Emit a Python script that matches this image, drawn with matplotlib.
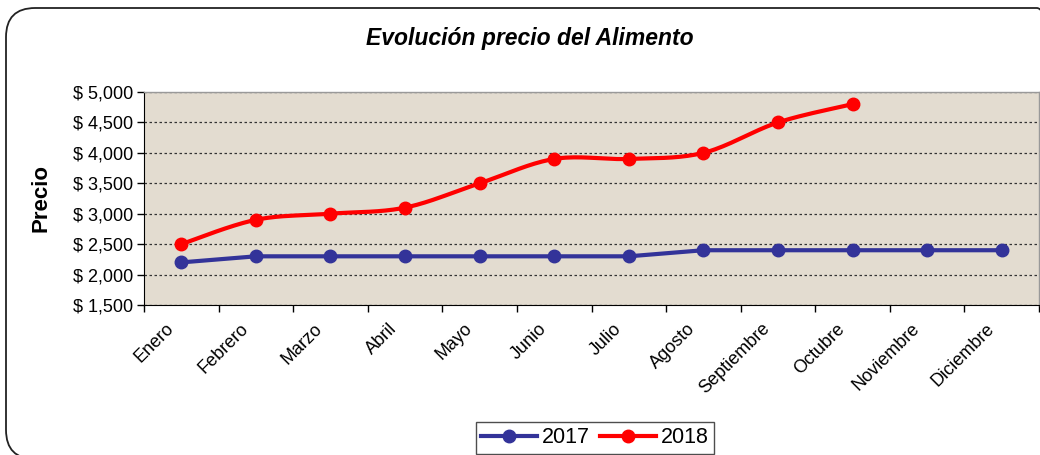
import numpy as np
import matplotlib
matplotlib.use("Agg")
import matplotlib.pyplot as plt
from matplotlib.patches import FancyBboxPatch
from matplotlib.lines import Line2D

months = ["Enero", "Febrero", "Marzo", "Abril", "Mayo", "Junio", "Julio",
          "Agosto", "Septiembre", "Octubre", "Noviembre", "Diciembre"]
p2017 = [2200, 2300, 2300, 2300, 2300, 2300, 2300, 2400, 2400, 2400, 2400, 2400]
p2018 = [2500, 2900, 3000, 3100, 3500, 3900, 3900, 4000, 4500, 4800]
yticks = [1500, 2000, 2500, 3000, 3500, 4000, 4500, 5000]

plt.rcParams['font.family'] = ['Liberation Sans', 'DejaVu Sans']

W, H = 1040, 455
fig = plt.figure(figsize=(W / 100, H / 100), dpi=100)

# outer rounded frame
frame = FancyBboxPatch((6 / W, -4 / H), (W + 20) / W, (H - 4) / H,
                       boxstyle="round,pad=0,rounding_size=0.028",
                       transform=fig.transFigure, fill=False,
                       edgecolor="#222222", linewidth=1.3, zorder=0,
                       mutation_aspect=W / H)
fig.patches.append(frame)

ax = fig.add_axes([144 / W, 1 - 305 / H, (1039 - 144) / W, (305 - 92) / H])
ax.set_facecolor("#E3DCD0")


def smooth(xs, ys, n=20):
    xs = np.asarray(xs, float)
    ys = np.asarray(ys, float)
    P = np.column_stack([xs, ys])
    P = np.vstack([P[0], P, P[-1]])
    out = []
    for i in range(1, len(P) - 2):
        p0, p1, p2, p3 = P[i - 1], P[i], P[i + 1], P[i + 2]
        t = np.linspace(0, 1, n)[:, None]
        c1 = p1 + (p2 - p0) / 6
        c2 = p2 - (p3 - p1) / 6
        seg = ((1 - t) ** 3) * p1 + 3 * ((1 - t) ** 2) * t * c1 + 3 * (1 - t) * t ** 2 * c2 + t ** 3 * p2
        out.append(seg)
    out = np.vstack(out)
    return out[:, 0], out[:, 1]


x17 = np.arange(len(p2017))
x18 = np.arange(len(p2018))
ax.plot(x17, p2017, color="#333399", lw=3, zorder=3)
ax.plot(x17, p2017, 'o', color="#333399", ms=9, zorder=4)
sx, sy = smooth(x18, p2018)
ax.plot(sx, sy, color="#FF0000", lw=3, zorder=3)
ax.plot(x18, p2018, 'o', color="#FF0000", ms=9, zorder=4)

ax.set_xlim(-0.5, len(months) - 0.5)
ax.set_ylim(1500, 5000)
ax.set_yticks(yticks)
ax.set_yticklabels([f"$ {v:,}" for v in yticks], fontsize=13)
ax.yaxis.grid(True, linestyle=(0, (2, 2)), color="#333333", linewidth=0.9)
ax.set_axisbelow(True)

# category boundary ticks (major) and label ticks (minor, slightly left of centre)
ax.set_xticks(np.arange(len(months) + 1) - 0.5)
ax.set_xticklabels([])
ax.set_xticks(np.arange(len(months)) - 0.22, minor=True)
ax.set_xticklabels(months, minor=True, rotation=45, ha="right",
                   rotation_mode="anchor", fontsize=13)
ax.tick_params(axis="x", which="minor", length=0, pad=11)
ax.tick_params(axis="x", which="major", length=5, direction="out", width=1)
ax.tick_params(axis="y", length=5, direction="out", width=1, pad=3)

for s in ["top", "right"]:
    ax.spines[s].set_color("#999999")
    ax.spines[s].set_linewidth(1)
ax.spines["left"].set_color("#000000")
ax.spines["bottom"].set_color("#000000")

ax.set_ylabel("Precio", fontsize=16, fontweight="bold", labelpad=15)

fig.text(530 / W, 1 - 38 / H, "Evolución precio del Alimento", ha="center",
         va="center", fontsize=16.5, fontweight="bold", fontstyle="italic")

handles = [Line2D([], [], color="#333399", lw=3, marker="o", ms=9),
           Line2D([], [], color="#FF0000", lw=3, marker="o", ms=9)]
leg = fig.legend(handles, ["2017", "2018"], loc="upper left",
                 bbox_to_anchor=(476 / W, 1 - 422 / H), ncol=2,
                 fontsize=15.5, frameon=True, fancybox=False,
                 edgecolor="#222222", handlelength=2.6, columnspacing=0.5,
                 handletextpad=0.2, borderpad=0.25, borderaxespad=0)
leg.get_frame().set_linewidth(1)

fig.savefig("out.png", dpi=100)
